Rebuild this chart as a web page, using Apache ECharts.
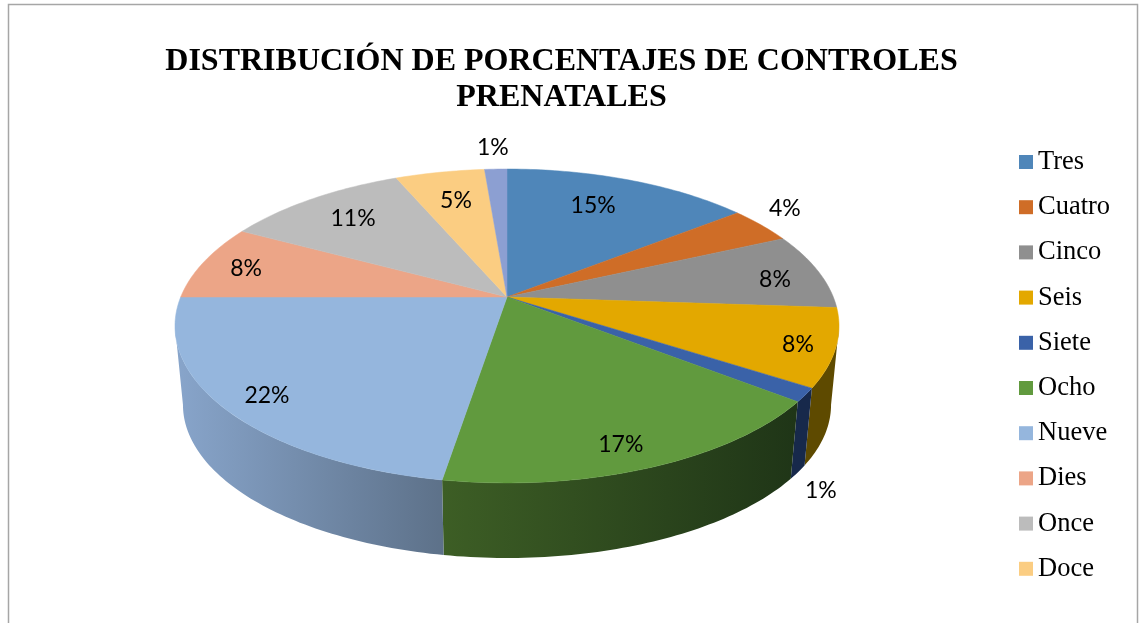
<!DOCTYPE html>
<html><head><meta charset="utf-8">
<style>html,body{margin:0;padding:0;background:#fff}#c{width:1144px;height:623px}</style>
<script src="https://cdn.jsdelivr.net/npm/echarts@6/dist/echarts.min.js"></script>
</head><body><div id="c"></div>
<script>
const categories = ['Tres','Cuatro','Cinco','Seis','Siete','Ocho','Nueve','Dies','Once','Doce','Trece'];
const legendNames = ['Tres','Cuatro','Cinco','Seis','Siete','Ocho','Nueve','Dies','Once','Doce'];
const values = [14.4,3.8,7.9,8.0,1.4,17.1,22.4,7.8,10.7,5.2,1.3];
const percentLabels = ['15%','4%','8%','8%','1%','17%','22%','8%','11%','5%','1%'];
const colors = ['#4f86b9','#cf6d27','#8f8f8f','#e3a800','#3a62a8','#619a3e','#95b6dd','#eca587','#bcbcbc','#fbcd82','#8c9fd2'];
const wallStops = [null,null,['#5e4a00','#5e4a00'],['#5e4a00','#5e4a00'],['#17294b','#17294b'],['#3d5e25','#1f3517'],['#88a5cb','#5d7189'],null,null,null,null];
const labelAngles = [23.3,55.1,81.3,108.8,142.8,160.1,229,283.9,318.2,346.4,357.5];
const labelRadii = [.753,1.166,.8505,.892,1.289,.8697,.8718,.8552,.7845,.755,1.2217];

// projection of the pie disc
const P = {cx:507, cy:297, a:326.3, b:151.6, k:.1847, baseScale:.976, baseY:376.5};
const total = values.reduce((s,v)=>s+v,0);
function discPoint(t,r){const u=r*Math.sin(t),v=r*Math.cos(t),d=1+P.k*v;return [P.cx+P.a*u/d,P.cy-P.b*v/d];}
function basePoint(t){const u=Math.sin(t),v=Math.cos(t),d=1+P.k*v;return [P.cx+P.baseScale*P.a*u/d,P.baseY-P.baseScale*P.b*v/d];}
function arc(fn,t0,t1){const n=Math.max(2,Math.ceil(Math.abs(t1-t0)/(Math.PI/180)));const out=[];for(let i=0;i<=n;i++)out.push(fn(t0+(t1-t0)*i/n,1));return out;}
// the wall's silhouette runs along the generators at the disc's widest points
const tangent = Math.asin(P.k);

function makeRender(i){
  return function(params,api){
    const before=values.slice(0,i).reduce((s,v)=>s+v,0);
    const t0=before/total*2*Math.PI, t1=(before+api.value(0))/total*2*Math.PI;
    const kids=[];
    const lo=Math.max(t0,Math.PI/2+tangent), hi=Math.min(t1,3*Math.PI/2-tangent);
    if(hi>lo && wallStops[i]){
      const pts=arc(discPoint,lo,hi).concat(arc(basePoint,hi,lo));
      const xs=pts.map(p=>p[0]);
      const left=Math.min.apply(null,xs), right=Math.max.apply(null,xs);
      kids.push({type:'polygon',z2:1,shape:{points:pts},style:{
        fill:new echarts.graphic.LinearGradient(left,0,right,0,[{offset:0,color:wallStops[i][0]},{offset:1,color:wallStops[i][1]}],true)}});
    }
    kids.push({type:'polygon',z2:10,shape:{points:[[P.cx,P.cy]].concat(arc(discPoint,t0,t1))},
      style:{fill:colors[i],stroke:colors[i],lineWidth:.5}});
    const lp=discPoint(labelAngles[i]*Math.PI/180,labelRadii[i]);
    kids.push({type:'text',z2:20,x:lp[0],y:lp[1]+1.5,style:{text:percentLabels[i],fill:'#000',
      font:'23px Lato',align:'center',verticalAlign:'middle'}});
    return {type:'group',children:kids};
  };
}

const chart=echarts.init(document.getElementById('c'),null,{renderer:'canvas'});
chart.setOption({
  animation:false,
  color:colors,
  title:{text:'DISTRIBUCIÓN DE PORCENTAJES DE CONTROLES\nPRENATALES',left:556.5,top:39,textAlign:'center',
    textStyle:{fontFamily:'Liberation Serif',fontWeight:'bold',fontSize:32,lineHeight:36,color:'#000'}},
  legend:{orient:'vertical',left:1014,top:142,data:legendNames,itemWidth:14,itemHeight:14,itemGap:15.2,icon:'rect',
    textStyle:{fontFamily:'Liberation Serif',fontSize:26.5,lineHeight:30,color:'#000'}},
  graphic:[{type:'polyline',silent:true,shape:{points:[[8.5,623],[8.5,4.5],[1137.5,4.5],[1137.5,623]]},
    style:{stroke:'#a6a6a6',lineWidth:1.5,fill:'none'}}],
  series:categories.map((name,i)=>({
    type:'custom',name:name,coordinateSystem:'none',silent:true,
    itemStyle:{color:colors[i]},data:[[values[i]]],renderItem:makeRender(i)
  }))
});
</script></body></html>
